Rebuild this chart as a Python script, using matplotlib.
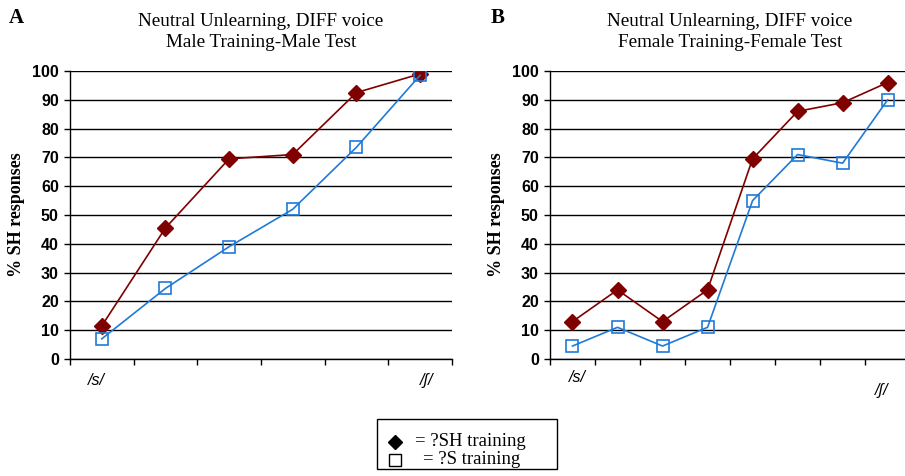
import matplotlib
matplotlib.use("Agg")
from matplotlib import pyplot as plt
from matplotlib.lines import Line2D
from matplotlib.patches import Rectangle

# panel A: male training / male test, 6 steps of the continuum
a_sh = [11.5, 45.5, 69.5, 71, 92.5, 99]
a_s = [7, 24.5, 39, 52, 73.5, 98.5]
# panel B: female training / female test, 8 steps
b_sh = [13, 24, 13, 24, 69.5, 86, 89, 96]
b_s = [4.5, 11, 4.5, 11, 55, 71, 68, 90]

titles = ["Neutral Unlearning, DIFF voice\nMale Training-Male Test",
          "Neutral Unlearning, DIFF voice\nFemale Training-Female Test"]
yticks = [0, 10, 20, 30, 40, 50, 60, 70, 80, 90, 100]
legend_labels = ["= ?SH training", "= ?S training"]

red = "#800000"
blue = "#1f7ad8"
serif = "Liberation Serif"
sans = "Liberation Sans"


def draw_panel(ax, sh, s, title, ylab_x, s_pos, sh_pos):
    n = len(sh)
    x = [i + 0.5 for i in range(n)]
    for yv in yticks:
        ax.axhline(yv, color="black", lw=1.0, zorder=1)
    ax.plot(x, sh, color=red, lw=1.2, marker="D", markersize=8.5,
            markerfacecolor=red, markeredgecolor=red, zorder=3)
    ax.plot(x, s, color=blue, lw=1.2, marker="s", markersize=9,
            markerfacecolor="none", markeredgecolor=blue, markeredgewidth=1.2, zorder=3)
    ax.set_xlim(0, n)
    ax.set_ylim(0, 100)
    ax.set_xticks(range(n + 1))
    ax.set_xticklabels([])
    ax.set_yticks(yticks)
    ax.set_yticklabels([str(v) for v in yticks], fontsize=11.5,
                       fontweight="bold", family=sans)
    ax.tick_params(axis="y", length=4, width=1, pad=4)
    ax.tick_params(axis="x", length=4, width=1)
    for side in ["top", "right"]:
        ax.spines[side].set_visible(False)
    ax.spines["left"].set_linewidth(1)
    ax.spines["bottom"].set_linewidth(1)
    ax.set_title(title, fontsize=13.8, family=serif, pad=17.5, linespacing=1.3)
    ax.set_ylabel("% SH responses", fontsize=13, fontweight="bold", family=serif)
    ax.yaxis.set_label_coords(ylab_x, 0.5)
    ax.text(s_pos[0], s_pos[1], "/s/", transform=ax.transAxes, fontsize=11.5,
            style="italic", family=sans, ha="center", va="center")
    ax.text(sh_pos[0], sh_pos[1], "/\u0283/", transform=ax.transAxes, fontsize=11.5,
            style="italic", family=sans, ha="center", va="center")


fig = plt.figure(figsize=(9.05, 4.76), dpi=100)
ax_a = fig.add_axes([0.0773, 0.2458, 0.422, 0.605])
ax_b = fig.add_axes([0.6077, 0.2458, 0.398, 0.605])

draw_panel(ax_a, a_sh, a_s, titles[0], -0.118, (0.07, -0.075), (0.935, -0.075))
draw_panel(ax_b, b_sh, b_s, titles[1], -0.125, (0.075, -0.065), (0.92, -0.11))

fig.text(0.018, 0.963, "A", fontsize=15, fontweight="bold", family=serif, ha="center", va="center")
fig.text(0.550, 0.963, "B", fontsize=15, fontweight="bold", family=serif, ha="center", va="center")

# legend box drawn by hand so its padding matches the figure
W, H = 905, 476
fig.add_artist(Rectangle((377 / W, 1 - 469 / H), 180 / W, 50 / H, transform=fig.transFigure,
                         fill=False, edgecolor="black", lw=1))
rows = [442, 460]
fig.add_artist(Line2D([395 / W], [1 - rows[0] / H], transform=fig.transFigure, ls="none",
                      marker="D", color="black", markersize=7.5))
fig.add_artist(Line2D([395 / W], [1 - rows[1] / H], transform=fig.transFigure, ls="none",
                      marker="s", markerfacecolor="none", markeredgecolor="black",
                      markersize=9, markeredgewidth=1))
fig.text(415 / W, 1 - rows[0] / H, legend_labels[0], fontsize=13.5, family=serif, va="center")
fig.text(423 / W, 1 - rows[1] / H, legend_labels[1], fontsize=13.5, family=serif, va="center")

fig.savefig("out.png", dpi=100)
